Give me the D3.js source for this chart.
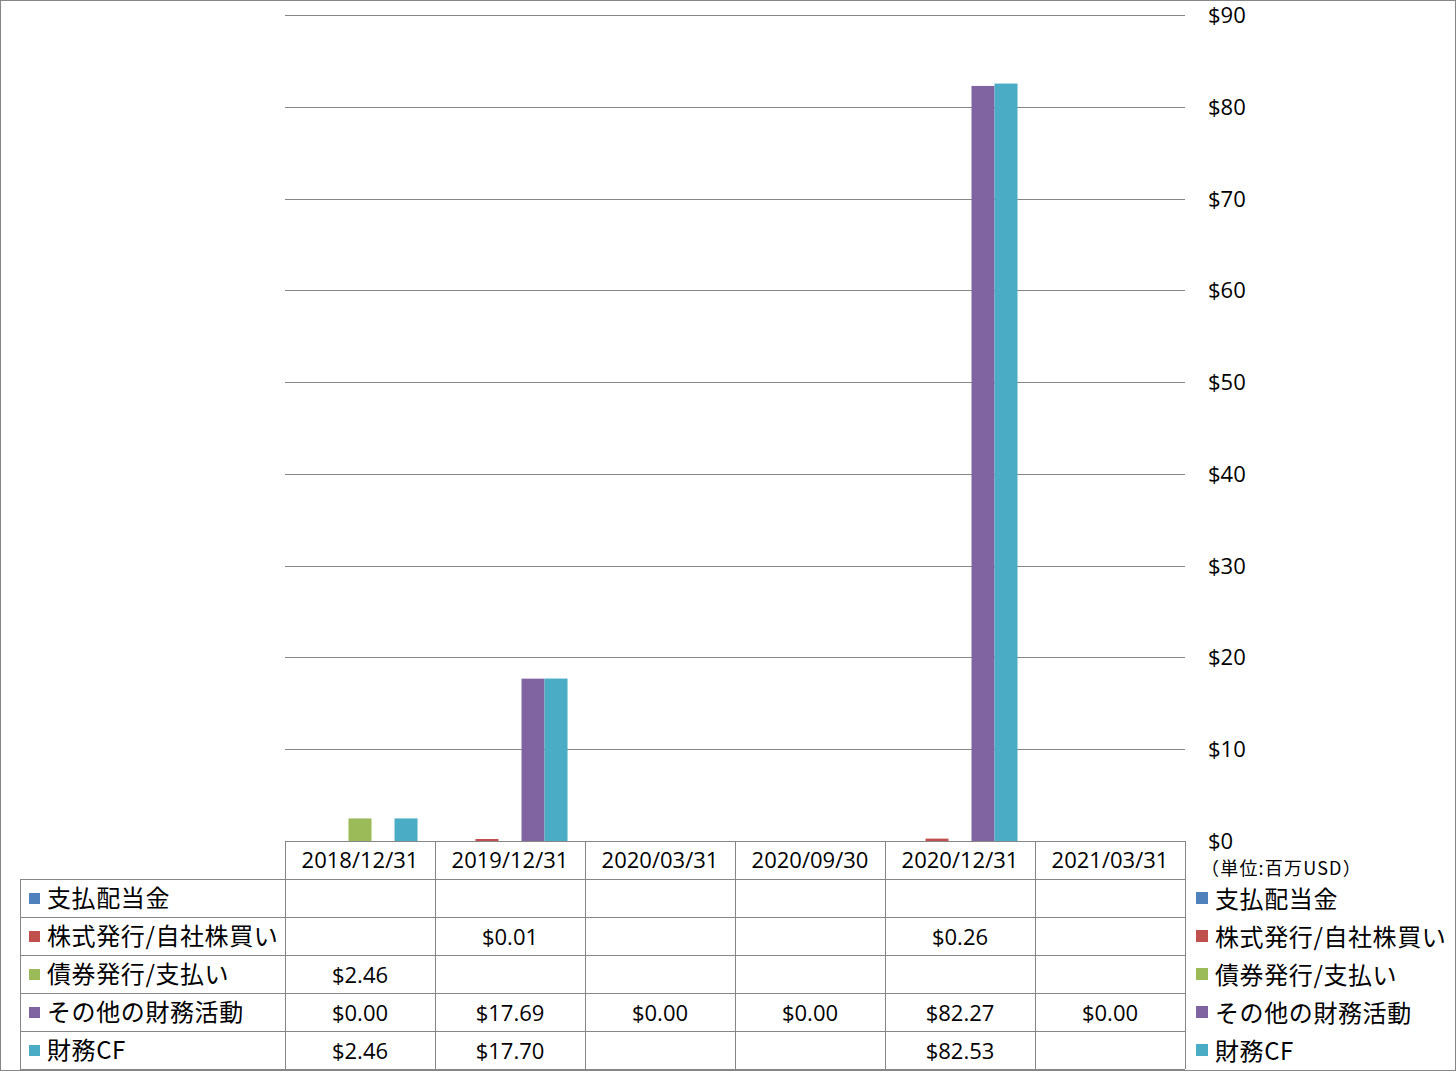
<!DOCTYPE html>
<html>
<head>
  <style>
    body { margin: 0; background: #fff; }
    text { font-family: "Noto Sans CJK JP", "Noto Sans", sans-serif; fill: #000; }
  </style>
</head>
<body>
  <div id="chart"></div>
  <script src="https://d3js.org/d3.v7.min.js"></script>
  <script>
  // data
  const categories = ["2018/12/31", "2019/12/31", "2020/03/31", "2020/09/30", "2020/12/31", "2021/03/31"];
  const seriesNames = ["支払配当金", "株式発行/自社株買い", "債券発行/支払い", "その他の財務活動", "財務CF"];
  const seriesColors = ["#4F81BD", "#C0504D", "#9BBB59", "#8064A2", "#4BACC6"];
  // null = empty cell in the data table
  const dividends = [null, null, null, null, null, null];
  const stockIssue = [null, 0.01, null, null, 0.26, null];
  const debtIssue = [2.46, null, null, null, null, null];
  const otherFin = [0.00, 17.69, 0.00, 0.00, 82.27, 0.00];
  const financeCF = [2.46, 17.70, null, null, 82.53, null];
  const yTicks = [0, 10, 20, 30, 40, 50, 60, 70, 80, 90];
  const unitLabel = "（単位:百万USD）";

  const seriesValues = [dividends, stockIssue, debtIssue, otherFin, financeCF];

  const W = 1456, H = 1071;
  const plot = {left: 285, right: 1185, top: 15, bottom: 841};
  const rowH = 38;
  const gridColor = "#868686";
  const numFont = "'Open Sans', sans-serif";

  const svg = d3.select("#chart").append("svg")
    .attr("width", W).attr("height", H);

  // outer frame
  svg.append("rect").attr("x", 0.5).attr("y", 0.5)
    .attr("width", W - 1).attr("height", H - 1)
    .attr("fill", "#fff").attr("stroke", "#868686");

  const x0 = d3.scaleBand().domain(categories).range([plot.left, plot.right]);
  const x1 = d3.scaleBand().domain(d3.range(seriesNames.length))
    .range([0, x0.bandwidth()]).paddingOuter(0.76);
  const y = d3.scaleLinear().domain([0, 90]).range([plot.bottom, plot.top]);

  // gridlines
  svg.append("g").selectAll("line").data(yTicks).join("line")
    .attr("x1", plot.left).attr("x2", plot.right)
    .attr("y1", d => Math.round(y(d)) + 0.5).attr("y2", d => Math.round(y(d)) + 0.5)
    .attr("stroke", gridColor).attr("stroke-width", 1);

  // right side axis labels
  svg.append("g").selectAll("text").data(yTicks).join("text")
    .attr("x", 1208).attr("y", d => y(d) + 8)
    .style("font-family", numFont)
    .attr("font-size", 22)
    .text(d => "$" + d);

  svg.append("text").attr("x", 1201).attr("y", 875)
    .attr("font-size", 18).attr("letter-spacing", 1.2).text(unitLabel);

  // bars
  seriesValues.forEach((vals, si) => {
    svg.append("g").selectAll("rect")
      .data(vals.map((v, i) => ({v, c: categories[i]})).filter(d => d.v))
      .join("rect")
      .attr("x", d => x0(d.c) + x1(si))
      .attr("width", x1.bandwidth())
      .attr("y", d => Math.min(y(d.v), plot.bottom - 2))
      .attr("height", d => Math.max(plot.bottom - y(d.v), 2))
      .attr("fill", seriesColors[si]);
  });

  // data table
  const tbl = svg.append("g");
  const tableTop = plot.bottom;
  const tableBottom = tableTop + rowH * (seriesNames.length + 1);
  const colLines = categories.map(c => x0(c)).concat([plot.right]);
  tbl.selectAll("line.v").data(colLines).join("line")
    .attr("x1", d => d + 0.5).attr("x2", d => d + 0.5)
    .attr("y1", tableTop).attr("y2", tableBottom)
    .attr("stroke", gridColor);
  tbl.append("line").attr("x1", 20.5).attr("x2", 20.5)
    .attr("y1", tableTop + rowH).attr("y2", tableBottom).attr("stroke", gridColor);
  tbl.selectAll("line.h").data(d3.range(1, seriesNames.length + 2)).join("line")
    .attr("x1", 20).attr("x2", plot.right)
    .attr("y1", d => tableTop + d * rowH + 0.5).attr("y2", d => tableTop + d * rowH + 0.5)
    .attr("stroke", gridColor);

  // header categories
  tbl.selectAll("text.cat").data(categories).join("text")
    .attr("x", d => x0(d) + x0.bandwidth() / 2).attr("y", tableTop + 27)
    .attr("text-anchor", "middle")
    .style("font-family", numFont)
    .attr("font-size", 22).text(d => d);

  seriesNames.forEach((name, si) => {
    const ry = tableTop + rowH * (si + 1);
    tbl.append("rect").attr("x", 29).attr("y", ry + 14)
      .attr("width", 11).attr("height", 11).attr("fill", seriesColors[si]);
    tbl.append("text").attr("x", 47).attr("y", ry + 28)
      .attr("font-size", 24).attr("letter-spacing", 0.6).text(name);
    seriesValues[si].forEach((v, ci) => {
      if (v === null) return;
      tbl.append("text")
        .attr("x", x0(categories[ci]) + x0.bandwidth() / 2).attr("y", ry + 28)
        .attr("text-anchor", "middle")
        .style("font-family", numFont)
        .attr("font-size", 22)
        .text(d3.format("$.2f")(v));
    });
  });

  // legend on the right
  const legend = svg.append("g");
  seriesNames.forEach((name, si) => {
    const ly = tableTop + rowH * (si + 1) + 19;
    legend.append("rect").attr("x", 1196).attr("y", ly - 6)
      .attr("width", 12).attr("height", 12).attr("fill", seriesColors[si]);
    legend.append("text").attr("x", 1215).attr("y", ly + 10)
      .attr("font-size", 24).attr("letter-spacing", 0.6).text(name);
  });
  </script>
</body>
</html>
